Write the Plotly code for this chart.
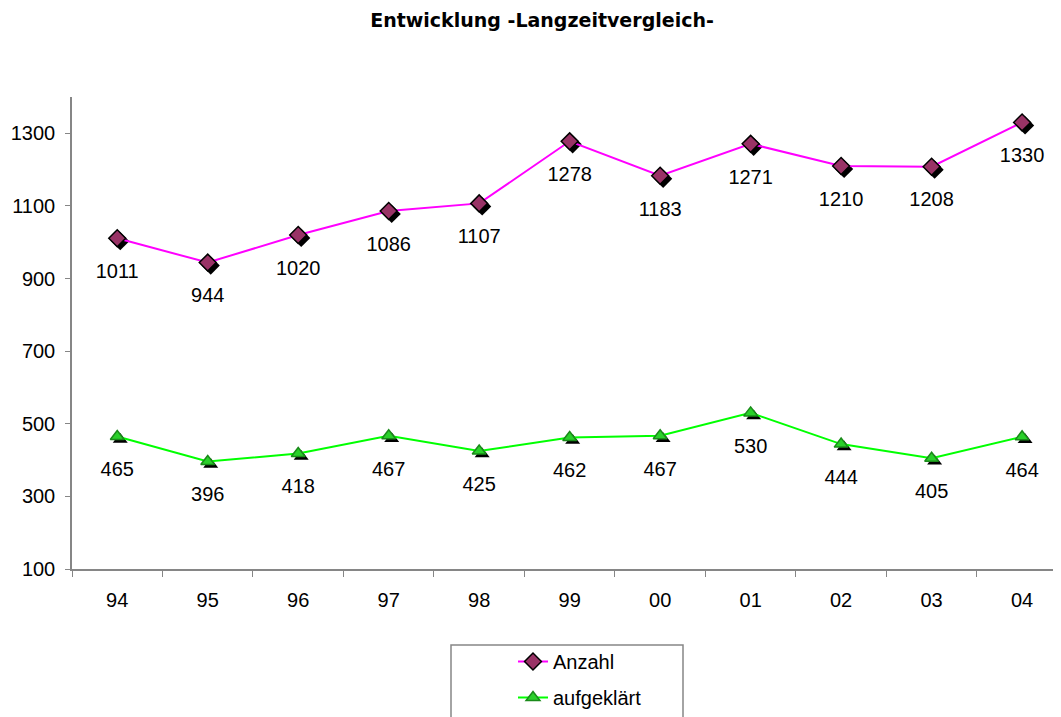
import plotly.graph_objects as go

years = ["94", "95", "96", "97", "98", "99", "00", "01", "02", "03", "04"]
anzahl = [1011, 944, 1020, 1086, 1107, 1278, 1183, 1271, 1210, 1208, 1330]
aufgeklaert = [465, 396, 418, 467, 425, 462, 467, 530, 444, 405, 464]
y_ticks = [100, 300, 500, 700, 900, 1100, 1300]

FONT = "Liberation Sans, Arial, sans-serif"
AXIS_GREY = "#868686"

# the page body has an 8px margin, so work in page pixels and subtract it
PAGE = 8
width, height = 1061 - PAGE, 717 - PAGE
left, right, top, bottom = 72 - PAGE, 1061 - PAGE, 97 - PAGE, 569 - PAGE
x_range = [-0.5, 10.43]
y_range = [100, 1400]
px_x = (right - left) / (x_range[1] - x_range[0])
px_y = (bottom - top) / (y_range[1] - y_range[0])
shadow = 3


def paper_x(page_px):
    return (page_px - PAGE - left) / (right - left)


def paper_y(page_px):
    return (bottom - (page_px - PAGE)) / (bottom - top)


series = [
    ("Anzahl", anzahl, "#ff00ff", "diamond", 13, "#993366", "black", "anzahl"),
    ("aufgeklärt", aufgeklaert, "#00ff00", "triangle-up", 12, "#2ad02a", "#1a8a1a", "aufg"),
]

fig = go.Figure()

# shadows on the hidden base axes (shifted a few pixels right and down)
for name, values, line_color, symbol, size, fill, edge, group in series:
    fig.add_trace(
        go.Scatter(
            x=years,
            y=values,
            mode="markers",
            marker={"symbol": symbol, "size": size + 1, "color": "black"},
            showlegend=False,
            hoverinfo="skip",
            xaxis="x",
            yaxis="y",
        )
    )

for name, values, line_color, symbol, size, fill, edge, group in series:
    fig.add_trace(
        go.Scatter(
            x=years,
            y=values,
            name=name,
            mode="lines+markers",
            line={"color": line_color, "width": 2},
            marker={"symbol": symbol, "size": size, "color": fill, "line": {"color": edge, "width": 1.5}},
            legendgroup=group,
            xaxis="x2",
            yaxis="y2",
        )
    )
    fig.add_trace(
        go.Scatter(
            x=years,
            y=values,
            mode="markers+text",
            text=[str(v) for v in values],
            textposition="bottom center",
            textfont={"family": FONT, "size": 20, "color": "black"},
            marker={"size": 38, "color": "rgba(0,0,0,0)"},
            showlegend=False,
            hoverinfo="skip",
            xaxis="x2",
            yaxis="y2",
        )
    )

fig.update_layout(
    width=width,
    height=height,
    margin={"l": left, "r": width - right, "t": top, "b": height - bottom, "pad": 0, "autoexpand": False},
    paper_bgcolor="#ffffff",
    plot_bgcolor="#ffffff",
    font={"family": FONT, "size": 20, "color": "black"},
    title={
        "text": "<b>Entwicklung -Langzeitvergleich-</b>",
        "font": {"family": "DejaVu Sans, sans-serif", "size": 19, "color": "black"},
        "x": paper_x(542),
        "xanchor": "center",
        "xref": "paper",
        "y": 1 - (20 - PAGE) / height,
        "yanchor": "middle",
    },
    xaxis={
        "type": "category",
        "categoryorder": "array",
        "categoryarray": years,
        "range": [x_range[0] - shadow / px_x, x_range[1] - shadow / px_x],
        "visible": False,
        "automargin": False,
    },
    yaxis={
        "range": [y_range[0] + shadow / px_y, y_range[1] + shadow / px_y],
        "visible": False,
        "automargin": False,
    },
    xaxis2={
        "type": "category",
        "categoryorder": "array",
        "categoryarray": years,
        "overlaying": "x",
        "range": x_range,
        "showgrid": False,
        "zeroline": False,
        "showline": True,
        "linecolor": AXIS_GREY,
        "linewidth": 1.5,
        "ticks": "outside",
        "tickson": "boundaries",
        "ticklen": 6,
        "tickcolor": AXIS_GREY,
        "ticklabelstandoff": 12,
        "tickfont": {"family": FONT, "size": 20, "color": "black"},
        "anchor": "y2",
        "automargin": False,
    },
    yaxis2={
        "overlaying": "y",
        "range": y_range,
        "tickvals": y_ticks,
        "showgrid": False,
        "zeroline": False,
        "showline": True,
        "linecolor": AXIS_GREY,
        "linewidth": 1.5,
        "ticks": "outside",
        "ticklen": 5,
        "tickcolor": AXIS_GREY,
        "ticklabelstandoff": 6,
        "tickfont": {"family": FONT, "size": 20, "color": "black"},
        "anchor": "x2",
        "automargin": False,
    },
    showlegend=True,
    legend={
        "x": paper_x(513),
        "xanchor": "left",
        "y": paper_y(642),
        "yanchor": "top",
        "bgcolor": "rgba(0,0,0,0)",
        "borderwidth": 0,
        "font": {"family": FONT, "size": 20, "color": "black"},
        "tracegroupgap": 7,
        "itemwidth": 30,
    },
    shapes=[
        {
            "type": "rect",
            "xref": "paper",
            "yref": "paper",
            "x0": paper_x(451),
            "x1": paper_x(683),
            "y0": paper_y(645),
            "y1": paper_y(740),
            "line": {"color": AXIS_GREY, "width": 1.5},
            "fillcolor": "rgba(0,0,0,0)",
        }
    ],
)

fig.write_html("out.html")
